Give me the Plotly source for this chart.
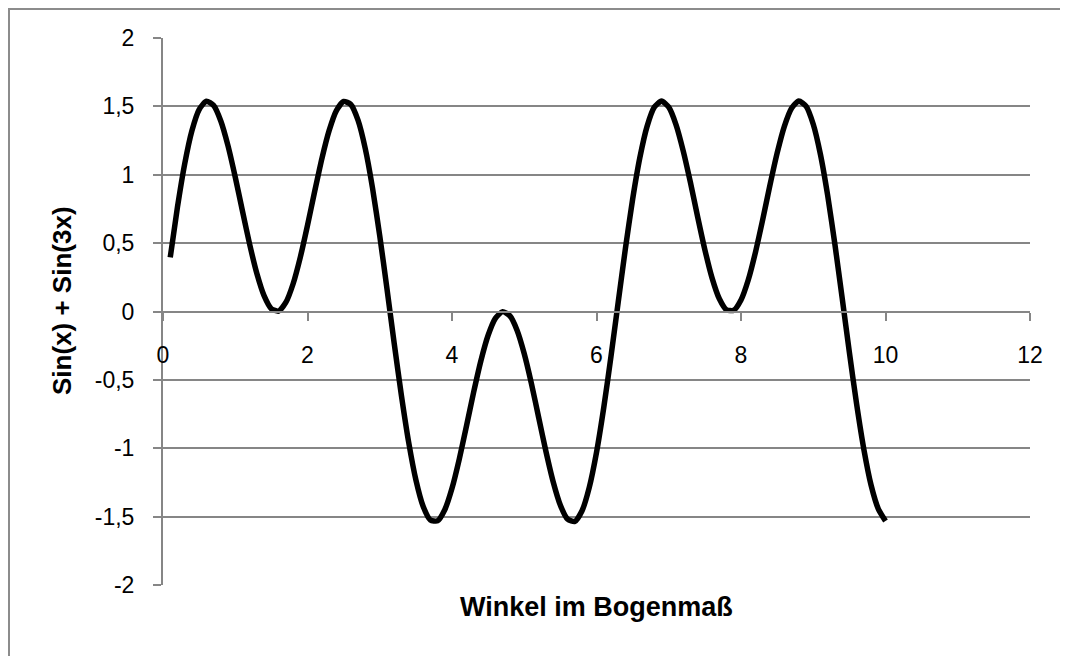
import plotly.graph_objects as go

# Values (x in radians, y = curve value)
x_vals = [0.1, 0.2, 0.3, 0.4, 0.5, 0.6, 0.7, 0.8, 0.9, 1.0,
          1.1, 1.2, 1.3, 1.4, 1.5, 1.6, 1.7, 1.8, 1.9, 2.0,
          2.1, 2.2, 2.3, 2.4, 2.5, 2.6, 2.7, 2.8, 2.9, 3.0,
          3.1, 3.2, 3.3, 3.4, 3.5, 3.6, 3.7, 3.8, 3.9, 4.0,
          4.1, 4.2, 4.3, 4.4, 4.5, 4.6, 4.7, 4.8, 4.9, 5.0,
          5.1, 5.2, 5.3, 5.4, 5.5, 5.6, 5.7, 5.8, 5.9, 6.0,
          6.1, 6.2, 6.3, 6.4, 6.5, 6.6, 6.7, 6.8, 6.9, 7.0,
          7.1, 7.2, 7.3, 7.4, 7.5, 7.6, 7.7, 7.8, 7.9, 8.0,
          8.1, 8.2, 8.3, 8.4, 8.5, 8.6, 8.7, 8.8, 8.9, 9.0,
          9.1, 9.2, 9.3, 9.4, 9.5, 9.6, 9.7, 9.8, 9.9, 10.0]
y_vals = [0.395, 0.763, 1.079, 1.322, 1.477, 1.538, 1.507, 1.393, 1.211, 0.983,
          0.734, 0.490, 0.276, 0.114, 0.020, 0.003, 0.066, 0.201, 0.396, 0.630,
          0.880, 1.120, 1.324, 1.469, 1.536, 1.514, 1.397, 1.190, 0.902, 0.553,
          0.166, -0.233, -0.615, -0.955, -1.231, -1.424, -1.524, -1.531, -1.450, -1.293,
          -1.081, -0.838, -0.589, -0.360, -0.174, -0.050, -0.001, -0.031, -0.137, -0.309,
          -0.529, -0.776, -1.023, -1.245, -1.417, -1.519, -1.535, -1.457, -1.286, -1.031,
          -0.704, -0.330, 0.067, 0.460, 0.821, 1.125, 1.354, 1.494, 1.539, 1.494,
          1.367, 1.175, 0.944, 0.692, 0.451, 0.244, 0.093, 0.012, 0.009, 0.084,
          0.230, 0.433, 0.671, 0.922, 1.158, 1.354, 1.486, 1.539, 1.502, 1.369,
          1.147, 0.847, 0.490, 0.099, -0.299, -0.676, -1.007, -1.269, -1.443, -1.532]

x_ticks = [0, 2, 4, 6, 8, 10, 12]
y_ticks = [-2, -1.5, -1, -0.5, 0, 0.5, 1, 1.5, 2]
y_tick_text = ["-2", "-1,5", "-1", "-0,5", "0", "0,5", "1", "1,5", "2"]

x_title = "Winkel im Bogenmaß"
y_title = "Sin(x) + Sin(3x)"

GRID = "#868686"
FONT = "Liberation Sans, Arial, sans-serif"
# page body has an 8px default margin, so the figure is sized to fit the window
W, H = 1060, 648
L, R, T, B = 155, 38, 30, 71
pw = W - L - R
ph = H - T - B

fig = go.Figure()
fig.add_trace(go.Scatter(
    x=x_vals, y=y_vals, mode="lines",
    line=dict(color="black", width=5.5, shape="spline", smoothing=0.6),
    showlegend=False, hoverinfo="skip",
))

fig.update_layout(
    width=W, height=H,
    margin=dict(l=L, r=R, t=T, b=B, pad=0),
    paper_bgcolor="white", plot_bgcolor="white",
    font=dict(family=FONT, color="black"),
    xaxis=dict(
        range=[0, 12], tickvals=x_ticks, ticktext=[str(v) for v in x_ticks],
        showgrid=False, zeroline=False,
        showline=True, linecolor=GRID, linewidth=2,
        anchor="free", position=0.5,
        ticks="outside", ticklen=8, tickcolor=GRID, tickwidth=2,
        ticklabelstandoff=15,
        tickfont=dict(size=23, family=FONT),
        fixedrange=True,
    ),
    yaxis=dict(
        range=[-2, 2], tickvals=y_ticks, ticktext=y_tick_text,
        showgrid=True, gridcolor=GRID, gridwidth=2,
        zeroline=False,
        showline=True, linecolor=GRID, linewidth=2,
        ticks="outside", ticklen=8, tickcolor=GRID, tickwidth=2,
        ticklabelstandoff=14,
        tickfont=dict(size=23, family=FONT),
        fixedrange=True,
    ),
)

# outer chart border (runs off the bottom/right edges of the window)
fig.add_shape(type="rect", xref="paper", yref="paper",
              x0=(1 - L) / pw, x1=(W + 30 - L) / pw,
              y0=-(H + 30 - T - ph) / ph, y1=(H - B - 1) / ph,
              line=dict(color="#8c8c8c", width=2), fillcolor="rgba(0,0,0,0)", layer="below")

fig.add_annotation(text=f"<b>{x_title}</b>", xref="paper", yref="paper",
                   x=0.5, y=-(599 - (H - B)) / ph, showarrow=False,
                   xanchor="center", yanchor="middle",
                   font=dict(size=27, family=FONT, color="black"))
fig.add_annotation(text=f"<b>{y_title}</b>", xref="paper", yref="paper",
                   x=(54 - L) / pw, y=((H - B) - 293) / ph, showarrow=False, textangle=-90,
                   xanchor="center", yanchor="middle",
                   font=dict(size=26, family=FONT, color="black"))

fig.write_html("out.html", config={"displayModeBar": False})
